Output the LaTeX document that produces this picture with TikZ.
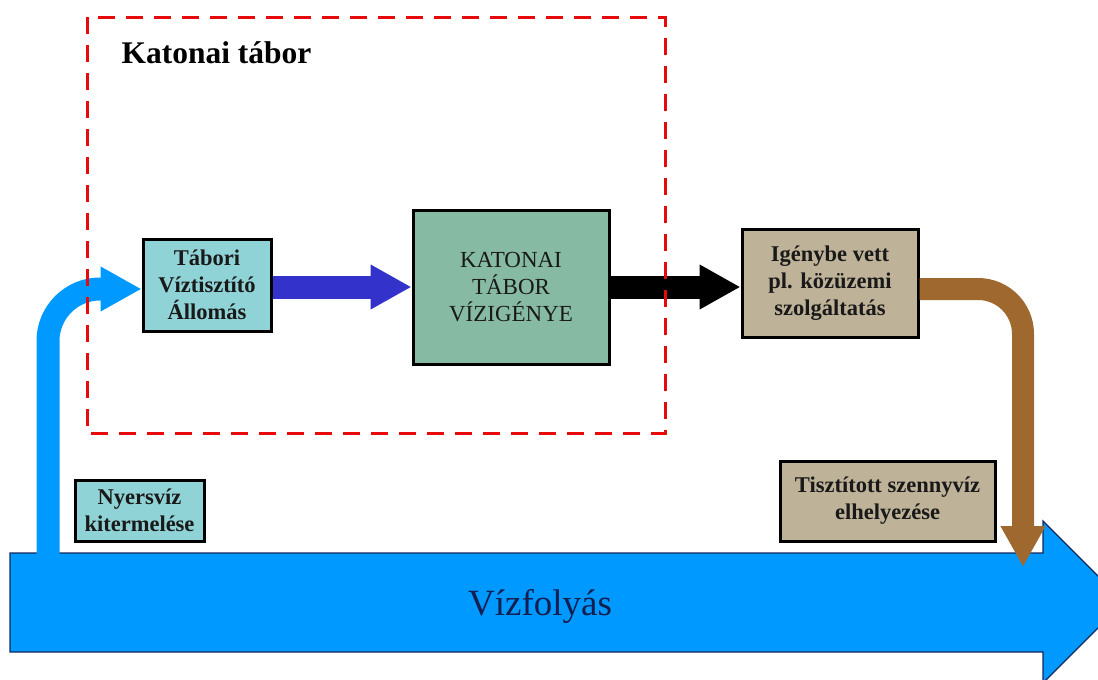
\documentclass[tikz,border=0pt]{standalone}
\usepackage{fontspec}
\setmainfont{Liberation Serif}
\usetikzlibrary{arrows.meta}

\definecolor{boxcyan}{RGB}{143,211,214}
\definecolor{boxgreen}{RGB}{134,186,162}
\definecolor{boxtan}{RGB}{190,178,152}
\definecolor{flowblue}{RGB}{0,153,255}
\definecolor{flowedge}{RGB}{20,40,90}
\definecolor{pipeviolet}{RGB}{51,51,204}
\definecolor{pipebrown}{RGB}{158,104,46}
\definecolor{campred}{RGB}{230,10,10}
\definecolor{labeltext}{RGB}{20,30,80}

\tikzset{
  stepbox/.style={draw=black, line width=3pt, align=center, inner sep=2pt,
    text=black!90, font=\bfseries\fontsize{22.5}{27}\selectfont},
  pipe/.style={line width=23pt, -{Triangle[length=41pt,width=42pt]}},
}

\begin{document}
\begin{tikzpicture}[x=1pt,y=-1pt]
\useasboundingbox (0,0) rectangle (1098,680);

% the river: a wide arrow along the bottom
\path[fill=flowblue, draw=flowedge, line width=1.2pt]
  (10,553) -- (1043,553) -- (1043,521) -- (1124,602) -- (1043,683)
  -- (1043,652) -- (10,652) -- cycle;
\node[anchor=base, text=labeltext, font=\fontsize{37}{40}\selectfont] (river) at (540,615) {Vízfolyás};

% process boxes
\node[stepbox, fill=boxcyan, minimum width=128pt, minimum height=92pt] (tabori) at (207,285)
  {Tábori\\Víztisztító\\Állomás};
\node[stepbox, fill=boxgreen, minimum width=196pt, minimum height=154pt,
  font=\fontsize{23}{27}\selectfont] (katonai) at (511,287)
  {KATONAI\\TÁBOR\\VÍZIGÉNYE};
\node[stepbox, fill=boxtan, minimum width=176pt, minimum height=108pt] (igeny) at (830,283)
  {Igénybe vett\\pl. közüzemi\\szolgáltatás};
\node[stepbox, fill=boxcyan, minimum width=129pt, minimum height=61pt] (nyers) at (139.5,510.5)
  {Nyersvíz\\kitermelése};
\node[stepbox, fill=boxtan, minimum width=215pt, minimum height=80pt] (tisztitott) at (887.5,501)
  {Tisztított szennyvíz\\elhelyezése};

% free ends of the bent pipes
\coordinate (intake) at (48,558);
\coordinate (outfall) at (1023,567);

% raw water intake from the river to the treatment station
\draw[pipe, draw=flowblue, rounded corners=52pt]
  (intake) |- ([yshift=-4pt]tabori.west);
% treated water to the camp
\draw[pipe, draw=pipeviolet]
  (tabori.east |- katonai.west) -- (katonai.west);
% camp demand to the utility service
\draw[pipe, draw=black]
  (katonai.east) -- (igeny.west |- katonai.east);
% treated sewage back to the river
\draw[pipe, line width=22pt, draw=pipebrown, rounded corners=45pt]
  ([yshift=-6pt]igeny.east) -| (outfall);

% camp boundary
\node[anchor=base west, font=\bfseries\fontsize{31.5}{34}\selectfont] (camp) at (118,63) {Katonai tábor};
\draw[campred, line width=3pt, dash pattern=on 17pt off 11pt] (87,17) rectangle (665,433);
\end{tikzpicture}
\end{document}
